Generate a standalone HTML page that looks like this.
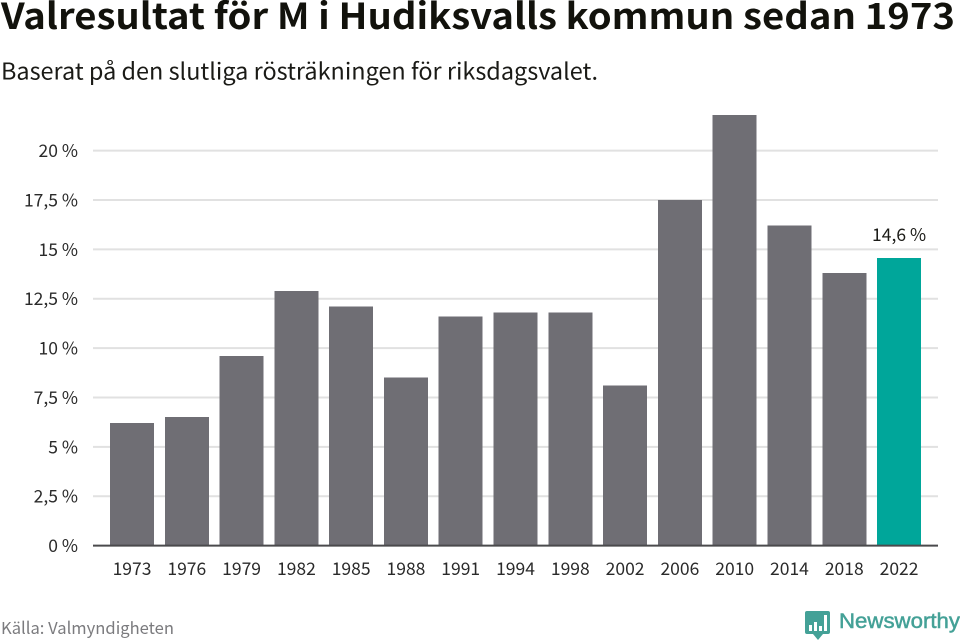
<!DOCTYPE html>
<html lang="sv">
<head>
<meta charset="utf-8">
<title>Valresultat för M i Hudiksvalls kommun sedan 1973</title>
<style>
html,body{margin:0;padding:0;background:#fff;width:960px;height:640px;overflow:hidden}
svg{display:block}
text{font-family:"Noto Sans CJK SC","Liberation Sans",sans-serif}
</style>
</head>
<body>
<svg id="chart" width="960" height="640" viewBox="0 0 960 640" xmlns="http://www.w3.org/2000/svg">
  <rect width="960" height="640" fill="#fff"/>
  <text x="1" y="29" font-size="36" font-weight="700" fill="#12120c" textLength="954" lengthAdjust="spacingAndGlyphs">Valresultat för M i Hudiksvalls kommun sedan 1973</text>
  <text x="1" y="79.5" font-size="23" fill="#1a1a16" textLength="597" lengthAdjust="spacingAndGlyphs">Baserat på den slutliga rösträkningen för riksdagsvalet.</text>
  <g id="grid"></g>
  <g id="ylabels"></g>
  <g id="bars" shape-rendering="crispEdges"></g>
  <g id="xlabels"></g>
  <text id="value-label" font-size="17.5" fill="#1c1c18" text-anchor="middle"></text>
  <line x1="93" x2="938" y1="545.6" y2="545.6" stroke="#4a4a4c" stroke-width="2"/>
  <text x="1" y="634" font-size="16.5" fill="#7b7b7e" textLength="173" lengthAdjust="spacingAndGlyphs">Källa: Valmyndigheten</text>
  <g>
    <path d="M807 611H828a2 2 0 0 1 2 2V632a2 2 0 0 1-2 2H823L818 640L813 634H807a2 2 0 0 1-2-2V613a2 2 0 0 1 2-2Z" fill="#44a197"/>
    <rect x="809" y="625" width="3" height="6" fill="#fff"/>
    <rect x="814" y="622" width="3" height="9" fill="#fff"/>
    <rect x="819" y="626" width="3" height="5" fill="#fff"/>
    <rect x="824" y="615" width="3" height="16" fill="#fff"/>
    <text x="839" y="628" font-size="21" style="font-family:'Liberation Sans',sans-serif" stroke="#44a197" stroke-width="0.5" fill="#44a197" textLength="121" lengthAdjust="spacingAndGlyphs">Newsworthy</text>
  </g>
</svg>
<script>
const years = ["1973","1976","1979","1982","1985","1988","1991","1994","1998","2002","2006","2010","2014","2018","2022"];
const shares = [6.2,6.5,9.6,12.9,12.1,8.5,11.6,11.8,11.8,8.1,17.5,21.8,16.2,13.8,14.56];
const yTicks = [0,2.5,5,7.5,10,12.5,15,17.5,20];
const yTickLabels = ["0 %","2,5 %","5 %","7,5 %","10 %","12,5 %","15 %","17,5 %","20 %"];
const highlightLabel = "14,6 %";

const NS = "http://www.w3.org/2000/svg";
const zeroY = 545.6, pxPerUnit = 19.75;
const firstCenter = 132, bandStep = 54.79, barWidth = 44;
function yScale(v){ return zeroY - v * pxPerUnit; }
function xScale(i){ return firstCenter + i * bandStep; }
function make(tag, attrs, parent){
  const el = document.createElementNS(NS, tag);
  for (const k in attrs) el.setAttribute(k, attrs[k]);
  parent.appendChild(el);
  return el;
}
const grid = document.getElementById("grid");
const ylabels = document.getElementById("ylabels");
const bars = document.getElementById("bars");
const xlabels = document.getElementById("xlabels");

yTicks.forEach(function(t, i){
  if (t !== 0) {
    const ln = make("line", {x1:93, x2:938, y1:yScale(t), y2:yScale(t), stroke:"#e1e1e1", "stroke-width":2}, grid);
    
    
  }
  const tx = make("text", {x:78, y:yScale(t)+6.5, "font-size":17.5, fill:"#2a2a2a", "text-anchor":"end"}, ylabels);
  
  
  tx.textContent = yTickLabels[i];
});

years.forEach(function(year, i){
  const last = i === years.length - 1;
  const r = make("rect", {x:xScale(i)-barWidth/2, y:yScale(shares[i]), width:barWidth, height:zeroY-yScale(shares[i]), fill:last ? "#00a69a" : "#6f6e74"}, bars);
  
  
  const tx = make("text", {x:xScale(i), y:575, "font-size":17.5, fill:"#2a2a2a", "text-anchor":"middle"}, xlabels);
  
  
  tx.textContent = year;
});

const vl = document.getElementById("value-label");
const lastIndex = years.length - 1;
vl.setAttribute("x", xScale(lastIndex));
vl.setAttribute("y", yScale(shares[lastIndex]) - 17);
vl.textContent = highlightLabel;
</script>
</body>
</html>
